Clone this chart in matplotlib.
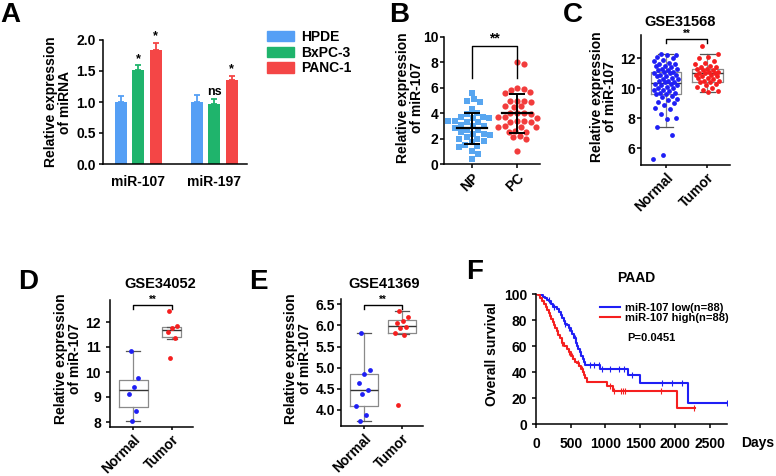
import numpy as np
import matplotlib
matplotlib.use("Agg")
import matplotlib.pyplot as plt
from matplotlib.patches import Patch
from matplotlib.lines import Line2D

plt.rcParams['font.family'] = ['Liberation Sans', 'DejaVu Sans']
plt.rcParams['font.weight'] = 'bold'
plt.rcParams['axes.linewidth'] = 1.1

W, H = 776, 476

# ---- panel A: qPCR bars
mirnas = ['miR-107', 'miR-197']
cell_lines = ['HPDE', 'BxPC-3', 'PANC-1']
bar_means = [[1.00, 1.52, 1.84], [1.00, 0.97, 1.36]]
bar_errs = [[0.10, 0.07, 0.11], [0.11, 0.08, 0.06]]
bar_marks = [['', '*', '*'], ['', 'ns', '*']]

# ---- panel B: NP vs PC scatter
b_groups = ['NP', 'PC']
np_vals = [5.6, 5.1, 5.0, 4.9, 4.3, 4.0, 3.9, 3.7, 3.7, 3.6, 3.6, 3.4, 3.4, 3.3, 3.3,
           3.1, 3.0, 3.0, 2.8, 2.7, 2.7, 2.5, 2.4, 2.4, 2.3, 2.1, 2.0, 2.0, 1.8, 1.7,
           1.5, 1.4, 1.3, 1.0, 0.8, 0.4]
pc_vals = [8.0, 7.9, 6.0, 5.9, 5.85, 5.7, 5.6, 5.0, 5.0, 4.95, 4.9, 4.6, 4.55, 4.5,
           4.0, 4.0, 4.0, 3.95, 3.7, 3.7, 3.65, 3.35, 3.35, 3.3, 3.3, 3.0, 2.95, 2.9,
           2.9, 2.6, 2.55, 2.5, 2.2, 2.1, 2.0, 1.0]
b_means = [2.8, 4.0]
b_sds = [1.2, 1.52]

# ---- panels C, D, E: GEO datasets
geo_groups = ['Normal', 'Tumor']
c_normal = [12.3, 12.25, 12.2, 12.1, 12.0, 11.9, 11.8, 11.7, 11.6, 11.6, 11.5, 11.5,
            11.4, 11.3, 11.3, 11.2, 11.2, 11.1, 11.1, 11.0, 11.0, 10.9, 10.9, 10.8,
            10.8, 10.7, 10.6, 10.6, 10.5, 10.5, 10.4, 10.4, 10.3, 10.3, 10.2, 10.2,
            10.1, 10.0, 10.0, 9.9, 9.9, 9.8, 9.7, 9.7, 9.6, 9.6, 9.5, 9.4, 9.3, 9.2,
            9.1, 9.0, 8.9, 8.7, 8.65, 8.3, 8.05, 7.95, 7.45, 6.9, 5.55, 5.3]
c_tumor = [12.8, 12.3, 12.1, 12.0, 11.8, 11.7, 11.6, 11.5, 11.4, 11.4, 11.3, 11.3,
           11.2, 11.2, 11.1, 11.1, 11.0, 11.0, 11.0, 10.9, 10.9, 10.8, 10.8, 10.7,
           10.7, 10.6, 10.5, 10.5, 10.4, 10.4, 10.3, 10.2, 10.1, 10.0, 9.9, 9.8, 9.75]
c_box = [[7.44, 9.6, 10.33, 11.1, 12.29], [9.78, 10.4, 11.0, 11.29, 12.29]]

d_normal = [10.84, 9.75, 9.41, 9.11, 8.45, 8.05]
d_tumor = [12.44, 11.84, 11.77, 11.61, 11.35, 10.55]
d_box = [[8.05, 8.61, 9.28, 9.68, 10.84], [11.33, 11.41, 11.68, 11.81, 11.81]]

e_normal = [5.83, 4.95, 4.85, 4.63, 4.47, 4.37, 4.10, 3.87, 3.75]
e_tumor = [6.34, 6.19, 6.11, 6.05, 5.97, 5.95, 5.83, 5.77, 4.12]
e_box = [[3.75, 4.10, 4.47, 4.85, 5.83], [5.80, 5.81, 5.99, 6.13, 6.34]]

# ---- panel F: Kaplan-Meier
km_low_t = [0, 60, 100, 130, 160, 190, 220, 250, 300, 330, 360, 380, 400, 420, 440, 470,
            500, 520, 545, 570, 590, 610, 630, 650, 670, 690, 710, 920, 1330, 1500, 2190, 2750]
km_low_s = [100, 98.9, 97.7, 96.6, 95.4, 94.3, 92, 89.8, 88.6, 86.4, 84.1, 81.8, 79.5, 77.3,
            76.1, 73.9, 71.6, 69.3, 65.9, 62.5, 60.2, 58, 55.7, 52.3, 50, 47.7, 45.5, 42.3,
            37.6, 31.9, 15.9, 15.9]
km_high_t = [0, 30, 60, 90, 120, 140, 160, 180, 200, 220, 240, 260, 280, 300, 320, 350, 380,
             410, 440, 470, 500, 530, 560, 590, 620, 650, 670, 690, 710, 740, 1020, 1110, 2030, 2290]
km_high_s = [100, 98.9, 96.6, 94.3, 92, 89.8, 87.5, 85.2, 83, 80.7, 78.4, 76.1, 73.9, 71.6,
             68.2, 65.9, 62.5, 60.2, 58, 55.7, 52.3, 50, 47.7, 46.6, 44.3, 42, 39.8, 37.5,
             35.2, 32.2, 29, 25.2, 12.6, 12.6]
cens_low = [180, 260, 420, 470, 560, 640, 780, 830, 900, 950, 1060, 1200, 1270, 1380,
            1820, 1960, 2100, 2750]
cens_high = [300, 380, 470, 520, 600, 660, 1060, 1120, 1220, 1250, 1280, 1800, 2270]

BLUE_A, GREEN_A, RED_A = '#559ff5', '#1fb46c', '#f44646'
BLUE, RED = '#1f1ff5', '#f51f1f'


def px_axes(l, t, r, b):
    return fig.add_axes([l / W, 1 - b / H, (r - l) / W, (b - t) / H])


def ftext(x, y, s, **kw):
    fig.text(x / W, 1 - y / H, s, **kw)


def ylab(x, y, s):
    ftext(x, y, s, rotation=90, ha='center', va='center', fontsize=10,
          linespacing=1.0, multialignment='center')


def swarm(ax, vals, diam):
    bb = ax.get_position()
    x0, x1 = ax.get_xlim()
    y0, y1 = ax.get_ylim()
    xpx = bb.width * W / (x1 - x0)
    ypx = bb.height * H / (y1 - y0)
    cands = [0] + [s * k * 0.5 for k in range(1, 120) for s in (1, -1)]
    placed, offs = [], []
    for v in vals:
        yy = v * ypx
        for c in cands:
            if all((c - px) ** 2 + (yy - py) ** 2 >= diam ** 2 for px, py in placed):
                break
        placed.append((c, yy))
        offs.append(c / xpx)
    return np.array(offs)


def jitter(n, w):
    return ((np.arange(n) * 0.618034 + 0.3) % 1 - 0.5) * 2 * w


def style(ax, ypad=1.2):
    ax.spines['top'].set_visible(False)
    ax.spines['right'].set_visible(False)
    ax.tick_params(width=1.1, length=3, labelsize=10)
    ax.tick_params(axis='y', pad=ypad)


def bracket(ax, y_end, y_top, label, size):
    ax.plot([0, 0, 1, 1], [y_end, y_top, y_top, y_end], color='black', lw=1.0, clip_on=False)
    ax.text(0.5, y_top, label, ha='center', va='bottom', fontsize=size)


def geo_panel(ax, normal, tumor, box, widths, ylim, yticks, ylabels, jw, ypad):
    ax.set_xlim(-0.6, 1.55)
    ax.set_ylim(*ylim)
    stats = []
    for lo, q1, med, q3, hi in box:
        stats.append(dict(whislo=lo, q1=q1, med=med, q3=q3, whishi=hi, fliers=[]))
    ax.bxp(stats, positions=[0, 1], widths=widths, capwidths=[w * 0.5 for w in widths],
           showfliers=False,
           boxprops=dict(color='#8a8a8a', lw=0.9),
           whiskerprops=dict(color='#8a8a8a', lw=0.9),
           capprops=dict(color='#555555', lw=0.9),
           medianprops=dict(color='#333333', lw=1.0))
    ax.scatter(0 + jitter(len(normal), jw), normal, s=12, color=BLUE, zorder=3, lw=0)
    ax.scatter(1 + jitter(len(tumor), jw), tumor, s=12, color=RED, zorder=3, lw=0)
    ax.set_yticks(yticks)
    ax.set_yticklabels(ylabels)
    ax.set_xticks([0, 1])
    ax.set_xticklabels(geo_groups, rotation=45, ha='right', va='top', rotation_mode='anchor')
    style(ax, ypad)
    ax.tick_params(axis='x', length=2.5, pad=1.5)


fig = plt.figure(figsize=(W / 100, H / 100), dpi=100)

# ================= A
axA = px_axes(103, 40, 247, 164)
x = np.arange(len(mirnas))
cols = [BLUE_A, GREEN_A, RED_A]
off = [-0.23, 0, 0.23]
for i, name in enumerate(cell_lines):
    m = [bar_means[g][i] for g in range(2)]
    e = [bar_errs[g][i] for g in range(2)]
    axA.bar(x + off[i], m, width=0.155, color=cols[i], label=name)
    axA.errorbar(x + off[i], m, yerr=[[0, 0], e], fmt='none', ecolor=cols[i],
                 elinewidth=1.3, capsize=2.5, capthick=1.3)
    for g in range(2):
        if bar_marks[g][i]:
            axA.text(x[g] + off[i], m[g] + e[g] + 0.01, bar_marks[g][i],
                     ha='center', va='bottom', fontsize=9)
axA.set_xlim(-0.465, 1.432)
axA.set_ylim(0, 2.0)
axA.set_yticks([0, 0.5, 1.0, 1.5, 2.0])
axA.set_yticklabels(['0.0', '0.5', '1.0', '1.5', '2.0'])
axA.set_xticks(x)
axA.set_xticklabels(mirnas)
style(axA, 2)
axA.tick_params(axis='x', length=0, pad=8)
handles = [Patch(color=c) for c in cols]
fig.legend(handles, cell_lines, loc='upper left', bbox_to_anchor=(266.7 / W, 1 - 30 / H),
           frameon=False, fontsize=10, handlelength=2.0, handleheight=0.75,
           handletextpad=0.45, labelspacing=0.12, borderpad=0, borderaxespad=0)
ylab(58, 102, 'Relative expression\nof miRNA')
ftext(0, 15, 'A', fontsize=20, ha='left', va='center')

# ================= B
axB = px_axes(444, 37, 540, 164)
axB.set_xlim(-0.61, 1.5)
axB.set_ylim(0, 10)
for g, (vals, col, mk) in enumerate([(np_vals, '#58a6f0', 's'), (pc_vals, '#f23c3c', 'o')]):
    offs = swarm(axB, vals, 6.6)
    axB.scatter(g + offs, vals, s=20, marker=mk, color=col, lw=0, zorder=2)
    axB.plot([g - 0.33, g + 0.33], [b_means[g]] * 2, color='black', lw=1.6, zorder=3)
    axB.errorbar([g], [b_means[g]], yerr=[b_sds[g]], fmt='none', ecolor='black',
                 elinewidth=1.4, capsize=5.5, capthick=1.4, zorder=3)
bracket(axB, 6.8, 9.3, '**', 10)
axB.set_yticks([0, 2, 4, 6, 8, 10])
axB.set_xticks([0, 1])
axB.set_xticklabels(b_groups, rotation=45, ha='right', va='top', rotation_mode='anchor')
style(axB, 1.2)
axB.tick_params(axis='x', length=3, pad=2)
ylab(410, 98, 'Relative expression\nof miR-107')
ftext(389, 15, 'B', fontsize=20, ha='left', va='center')

# ================= C
axC = px_axes(641, 35, 730, 165)
geo_panel(axC, c_normal, c_tumor, c_box, [0.74, 0.74], (4.89, 13.55),
          [6, 8, 10, 12], ['6', '8', '10', '12'], 0.3, 0.8)
bracket(axC, 13.0, 13.27, '**', 7)
ylab(603.5, 97, 'Relative expression\nof miR-107')
ftext(680, 21.5, 'GSE31568', fontsize=10.5, ha='center', va='center')
ftext(563, 15, 'C', fontsize=20, ha='left', va='center')

# ================= D
axD = px_axes(110, 300, 193, 427)
geo_panel(axD, d_normal, d_tumor, d_box, [0.75, 0.5], (7.8, 12.88),
          [8, 9, 10, 11, 12], ['8', '9', '10', '11', '12'], 0.15, 3.5)
bracket(axD, 12.52, 12.68, '**', 7)
ylab(68, 359, 'Relative expression\nof miR-107')
ftext(160, 283.5, 'GSE34052', fontsize=10.5, ha='center', va='center')
ftext(18, 282, 'D', fontsize=20, ha='left', va='center')

# ================= E
axE = px_axes(341, 299, 423, 426)
geo_panel(axE, e_normal, e_tumor, e_box, [0.75, 0.75], (3.62, 6.625),
          [4.0, 4.5, 5.0, 5.5, 6.0, 6.5], ['4.0', '4.5', '5.0', '5.5', '6.0', '6.5'], 0.2, 1.2)
bracket(axE, 6.4, 6.48, '**', 7)
ylab(298, 359, 'Relative expression\nof miR-107')
ftext(384, 283.5, 'GSE41369', fontsize=10.5, ha='center', va='center')
ftext(249, 282, 'E', fontsize=20, ha='left', va='center')

# ================= F
axF = px_axes(536, 294, 727, 424)
axF.step(km_low_t, km_low_s, where='post', color=BLUE, lw=1.5)
axF.step(km_high_t, km_high_s, where='post', color=RED, lw=1.5)
for t, s, cens, col in [(km_low_t, km_low_s, cens_low, BLUE),
                        (km_high_t, km_high_s, cens_high, RED)]:
    idx = np.searchsorted(t, cens, side='right') - 1
    axF.plot(cens, np.array(s)[idx], '|', color=col, ms=4, mew=0.8)
axF.set_xlim(0, 2750)
axF.set_ylim(0, 100)
axF.set_xticks([0, 500, 1000, 1500, 2000, 2500])
axF.set_yticks([0, 20, 40, 60, 80, 100])
style(axF, 3.5)
axF.tick_params(axis='x', pad=6)
leg_handles = [Line2D([], [], color=BLUE, lw=1.5), Line2D([], [], color=RED, lw=1.5)]
axF.legend(leg_handles, ['miR-107 low(n=88)', 'miR-107 high(n=88)'], loc='upper left',
           bbox_to_anchor=((600 - 536) / 191, (424 - 303) / 130), frameon=False,
           fontsize=8, handlelength=1.8, handletextpad=0.45, labelspacing=0.0,
           borderpad=0, borderaxespad=0)
ftext(651, 338, 'P=0.0451', fontsize=8, ha='center', va='center')
ftext(636.7, 278.5, 'PAAD', fontsize=10, ha='center', va='center')
ftext(741, 443, 'Days', fontsize=10, ha='left', va='center')
ylab(491.7, 354, 'Overall survival')
ftext(466, 272, 'F', fontsize=20, ha='left', va='center')

fig.savefig('out.png', dpi=100)
